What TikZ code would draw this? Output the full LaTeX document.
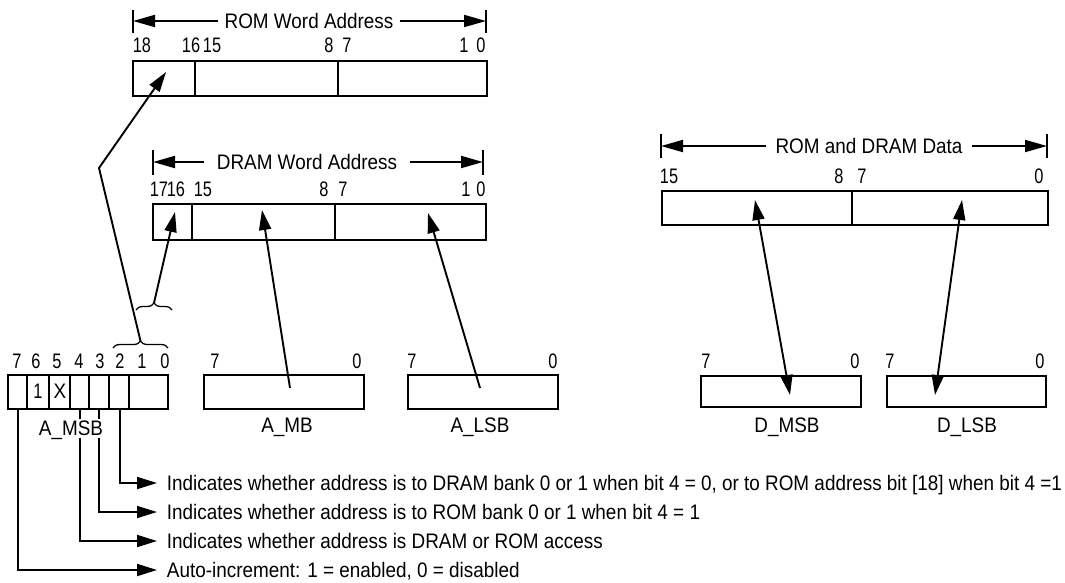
\documentclass[tikz,border=0pt]{standalone}
\usepackage{fontspec}
\setmainfont[FakeStretch=0.9]{Liberation Sans}
\newfontfamily\numfont[FakeStretch=0.78]{Liberation Sans}
\usetikzlibrary{arrows.meta,decorations.pathreplacing}
\begin{document}
\begin{tikzpicture}[x=1pt,y=-1pt, line width=1.9pt,
  txt/.style={font=\fontsize{21}{24}\selectfont, text height=15pt, text depth=0pt, inner sep=0pt},
  num/.style={font=\fontsize{21}{24}\selectfont\numfont, text height=15pt, text depth=0pt, inner sep=0pt},
  title/.style={txt, inner xsep=6pt},
  box/.style={draw, line width=1.9pt, inner sep=0pt, anchor=north west},
  arr/.style={-{Triangle[length=20pt,width=12pt]}},
  darr/.style={{Triangle[length=20pt,width=12pt]}-{Triangle[length=20pt,width=12pt]}},
  dim/.style={-{Triangle[length=22pt,width=12pt]}},
  brc/.style={decorate, decoration={brace, amplitude=7pt}, line width=1.3pt}
]
\useasboundingbox (0,0) rectangle (1065,582);

% ---------- ROM Word Address ----------
\node[title] (romT) at (309,21) {ROM Word Address};
\coordinate (romL) at (133,21); \coordinate (romR) at (486,21);
\draw (133,10) -- (133,33); \draw (486,10) -- (486,33);
\draw[dim] (romT.west) -- (romL);
\draw[dim] (romT.east) -- (romR);
\foreach \x/\t in {142/18,191/16,212/15,329/8,347/7,464/1,481/0}
  \node[num] at (\x,45) {\t};
\node[box, minimum width=354pt, minimum height=35pt] (rom) at (132,60) {};
\draw (195,60) -- (195,95); \draw (338,60) -- (338,95);

% ---------- DRAM Word Address ----------
\node[title, inner xsep=12pt] (dramT) at (307,162) {DRAM Word Address};
\coordinate (dramL) at (153,162); \coordinate (dramR) at (483,162);
\draw (153,150) -- (153,175); \draw (483,150) -- (483,175);
\draw[dim] (dramT.west) -- (dramL);
\draw[dim] (dramT.east) -- (dramR);
\foreach \x/\t in {159/17,176/16,203/15,324/8,343/7,466/1,481/0}
  \node[num] at (\x,188.5) {\t};
\node[box, minimum width=333pt, minimum height=36pt] (dram) at (152,203) {};
\draw (192,203) -- (192,239); \draw (335,203) -- (335,239);

% ---------- ROM and DRAM Data ----------
\node[title, inner xsep=9pt] (dataT) at (869,146) {ROM and DRAM Data};
\coordinate (dataL) at (661,146); \coordinate (dataR) at (1047,146);
\draw (661,134) -- (661,158); \draw (1047,134) -- (1047,158);
\draw[dim] (dataT.west) -- (dataL);
\draw[dim] (dataT.east) -- (dataR);
\foreach \x/\t in {669/15,839/8,862/7,1039/0}
  \node[num] at (\x,175.5) {\t};
\node[box, minimum width=386pt, minimum height=34pt] (data) at (661,190) {};
\draw (852,190) -- (852,224);

% ---------- A_MSB register ----------
\foreach \x/\t in {17/7,36/6,57/5,79/4,100/3,120/2,142/1,165/0}
  \node[num] at (\x,361) {\t};
\node[box, minimum width=160pt, minimum height=34pt] (amsb) at (7,374) {};
\foreach \x in {27,49,70,89,109,129} \draw (\x,374) -- (\x,408);
\node[num] (one) at (38,391) {1};
\node[txt] (ex) at (60,391) {X};

% ---------- other registers ----------
\node[num] at (215,361) {7}; \node[num] at (357,361) {0};
\node[box, minimum width=160pt, minimum height=34pt] (amb) at (203,374) {};
\node[txt] (ambL) at (287,425) {A\_MB};
\node[num] at (412,361) {7}; \node[num] at (553,361) {0};
\node[box, minimum width=150pt, minimum height=34pt] (alsb) at (407,374) {};
\node[txt] (alsbL) at (480,425) {A\_LSB};
\node[num] at (706,361) {7}; \node[num] at (855,361) {0};
\node[box, minimum width=160pt, minimum height=31pt] (dmsb) at (700,375) {};
\node[txt] (dmsbL) at (787,425) {D\_MSB};
\node[num] at (890,361) {7}; \node[num] at (1040,361) {0};
\node[box, minimum width=159pt, minimum height=31pt] (dlsb) at (886,375) {};
\node[txt] (dlsbL) at (967,425) {D\_LSB};

% ---------- braces ----------
\draw[brc] (113,348) -- (168,348);
\coordinate (braceA) at (140.5,341);
\draw[brc] (136,310) -- (172,310);
\coordinate (braceB) at (154,303);

% ---------- connectors ----------
\coordinate (kink) at (99,168);
\coordinate (romTip) at (166,72);
\draw[arr] (braceA) -- (kink) -- (romTip);
\coordinate (dramTip) at (175,212);
\draw[arr] (braceB) -- (dramTip);
\coordinate (ambS) at (290,388); \coordinate (ambTip) at (262,210);
\draw[arr] (ambS) -- (ambTip);
\coordinate (alsbS) at (480,388); \coordinate (alsbTip) at (428,213);
\draw[arr] (alsbS) -- (alsbTip);
\coordinate (dmA) at (755,200); \coordinate (dmB) at (790,395);
\draw[darr] (dmA) -- (dmB);
\coordinate (dlA) at (962,200); \coordinate (dlB) at (935,395);
\draw[darr] (dlA) -- (dlB);

% ---------- bit explanations ----------
\node[txt, inner xsep=9pt, anchor=west] (t1) at (157,483) {Indicates whether address is to DRAM bank 0 or 1 when bit 4 = 0, or to ROM address bit [18] when bit 4 =1};
\node[txt, inner xsep=9pt, anchor=west] (t2) at (157,512) {Indicates whether address is to ROM bank 0 or 1 when bit 4 = 1};
\node[txt, inner xsep=9pt, anchor=west] (t3) at (157,541) {Indicates whether address is DRAM or ROM access};
\node[txt, inner xsep=9pt, anchor=west] (t4) at (157,570) {Auto-increment: 1 = enabled, 0 = disabled};
\coordinate (b2) at (120,408); \coordinate (b3) at (99,408);
\coordinate (b4) at (80,408);  \coordinate (b7) at (18,408);
\draw[arr] (b2) |- (t1.west);
\draw[arr] (b3) |- (t2.west);
\draw[arr] (b4) |- (t3.west);
\draw[arr] (b7) |- (t4.west);
\node[txt, fill=white, inner xsep=0pt, inner ysep=2pt] (amsbL) at (71,428) {A\_MSB};
\end{tikzpicture}
\end{document}
